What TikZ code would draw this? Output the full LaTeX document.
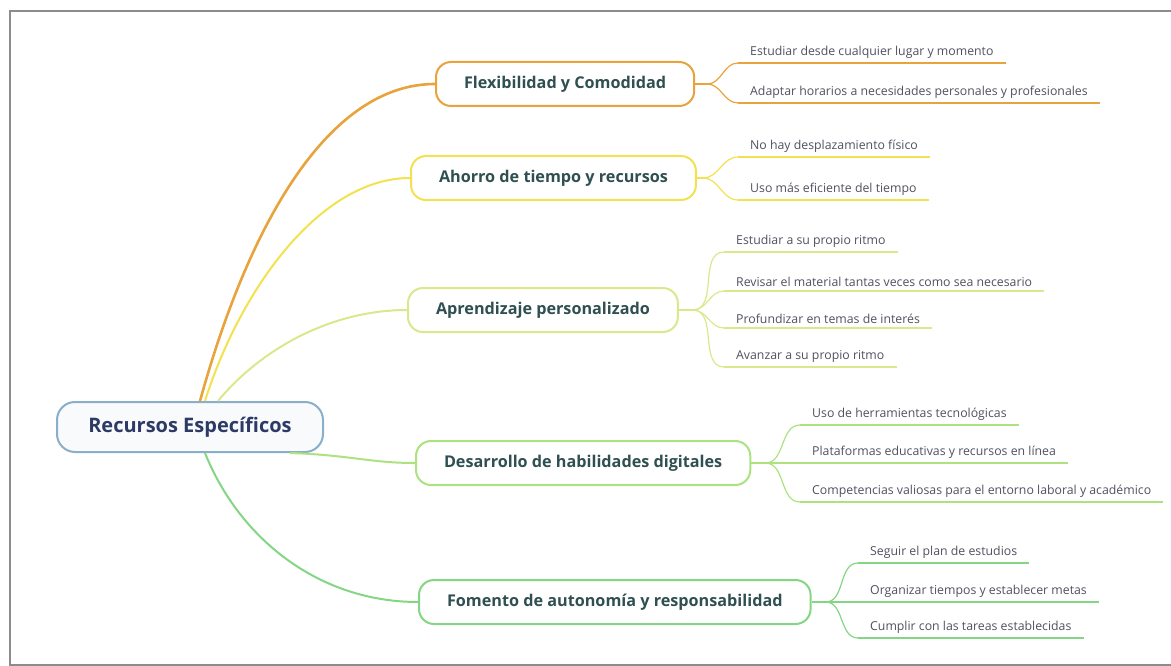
\documentclass[tikz,border=0pt]{standalone}
\usepackage{fontspec}
\setmainfont{Open Sans}
\usetikzlibrary{positioning, calc}
\definecolor{rootblue}{RGB}{138,175,200}
\definecolor{roottext}{RGB}{46,58,102}
\definecolor{topictext}{RGB}{47,79,80}
\definecolor{leaftext}{RGB}{80,80,96}
\definecolor{flexorange}{RGB}{232,163,61}
\definecolor{ahorroyellow}{RGB}{242,226,80}
\definecolor{aprendlime}{RGB}{218,232,140}
\definecolor{desarrgreen}{RGB}{172,226,128}
\definecolor{fomentgreen}{RGB}{132,214,132}
\definecolor{framegray}{RGB}{140,140,140}
\tikzset{
  root/.style={draw=rootblue, line width=2pt, fill=rootblue!6, rounded corners=18pt,
               minimum width=266pt, minimum height=50pt,
               font=\fontsize{20}{24}\selectfont\bfseries, text=roottext},
  topic/.style={draw=#1, line width=2pt, fill=white, rounded corners=15pt,
                minimum height=44pt, inner xsep=28pt, anchor=west,
                font=\fontsize{16.2}{19}\selectfont\bfseries, text=topictext},
  leaf/.style={anchor=south west, inner xsep=12pt, inner ysep=4pt,
               font=\fontsize{12.3}{14}\selectfont, text=leaftext},
  uline/.style={draw=#1, line width=2pt},
  branch/.style={draw=#1, line width=2pt},
  twig/.style={draw=#1, line width=1.2pt},
}
\begin{document}
\begin{tikzpicture}[x=1pt, y=-1pt]
\useasboundingbox (0,0) rectangle (1171,666);
% frame
\draw[framegray, line width=2pt] (1171,11) -| (10,665) -- (1171,665);

% central topic and main topics
\node[root] (rec) at (190,427) {Recursos Específicos};
\node[topic=flexorange] (flex) at (435,84) {Flexibilidad y Comodidad};
\node[topic=ahorroyellow] (aho) at (410,178) {Ahorro de tiempo y recursos};
\node[topic=aprendlime] (apr) at (407,310) {Aprendizaje personalizado};
\node[topic=desarrgreen] (des) at (415,463) {Desarrollo de habilidades digitales};
\node[topic=fomentgreen] (fom) at (418,602) {Fomento de autonomía y responsabilidad};

% branches from the centre
\draw[branch=flexorange, line width=2.6pt] ($(rec.north)+(10,0)$) .. controls (250,220) and (330,84) .. (flex.west);
\draw[branch=ahorroyellow] ($(rec.north)+(15,0)$) .. controls (240,290) and (320,178) .. (aho.west);
\draw[branch=aprendlime] ($(rec.north)+(28,0)$) .. controls (260,350) and (330,310) .. (apr.west);
\draw[branch=desarrgreen] ($(rec.south)+(100,0)$) .. controls (350,455) and (370,463) .. (des.west);
\draw[branch=fomentgreen] ($(rec.south)+(15,0)$) .. controls (240,540) and (320,602) .. (fom.west);

% subtopics
\node[leaf] (f1) at (738,63) {Estudiar desde cualquier lugar y momento};
\node[leaf] (f2) at (738,103) {Adaptar horarios a necesidades personales y profesionales};
\node[leaf] (a1) at (738,157) {No hay desplazamiento físico};
\node[leaf] (a2) at (738,200) {Uso más eficiente del tiempo};
\node[leaf] (p1) at (724,252) {Estudiar a su propio ritmo};
\node[leaf] (p2) at (724,291) {Revisar el material tantas veces como sea necesario};
\node[leaf] (p3) at (724,328) {Profundizar en temas de interés};
\node[leaf] (p4) at (724,367) {Avanzar a su propio ritmo};
\node[leaf] (d1) at (800,425) {Uso de herramientas tecnológicas};
\node[leaf] (d2) at (800,463) {Plataformas educativas y recursos en línea};
\node[leaf] (d3) at (800,502) {Competencias valiosas para el entorno laboral y académico};
\node[leaf] (m1) at (858,563) {Seguir el plan de estudios};
\node[leaf] (m2) at (858,602) {Organizar tiempos y establecer metas};
\node[leaf] (m3) at (858,638) {Cumplir con las tareas establecidas};

% underlines
\foreach \n in {f1,f2} \draw[uline=flexorange] (\n.south west) -- (\n.south east);
\foreach \n in {a1,a2} \draw[uline=ahorroyellow] (\n.south west) -- (\n.south east);
\foreach \n in {p1,p2,p3,p4} \draw[uline=aprendlime] (\n.south west) -- (\n.south east);
\foreach \n in {d1,d2,d3} \draw[uline=desarrgreen] (\n.south west) -- (\n.south east);
\foreach \n in {m1,m2,m3} \draw[uline=fomentgreen] (\n.south west) -- (\n.south east);

% twigs to subtopics
\draw[twig=flexorange] (flex.east) -- ++(12,0) coordinate (fflex);
\foreach \n in {f1,f2} \draw[twig=flexorange] (fflex) to[out=0, in=180] (\n.south west);
\draw[twig=ahorroyellow] (aho.east) -- ++(6,0) coordinate (faho);
\foreach \n in {a1,a2} \draw[twig=ahorroyellow] (faho) to[out=0, in=180] (\n.south west);
\draw[twig=aprendlime] (apr.east) -- ++(14,0) coordinate (fapr);
\foreach \n in {p1,p2,p3,p4} \draw[twig=aprendlime] (fapr) to[out=0, in=180] (\n.south west);
\draw[twig=desarrgreen] (des.east) -- ++(14,0) coordinate (fdes);
\foreach \n in {d1,d2,d3} \draw[twig=desarrgreen] (fdes) to[out=0, in=180] (\n.south west);
\draw[twig=fomentgreen] (fom.east) -- ++(14,0) coordinate (ffom);
\foreach \n in {m1,m2,m3} \draw[twig=fomentgreen] (ffom) to[out=0, in=180] (\n.south west);
\end{tikzpicture}
\end{document}
